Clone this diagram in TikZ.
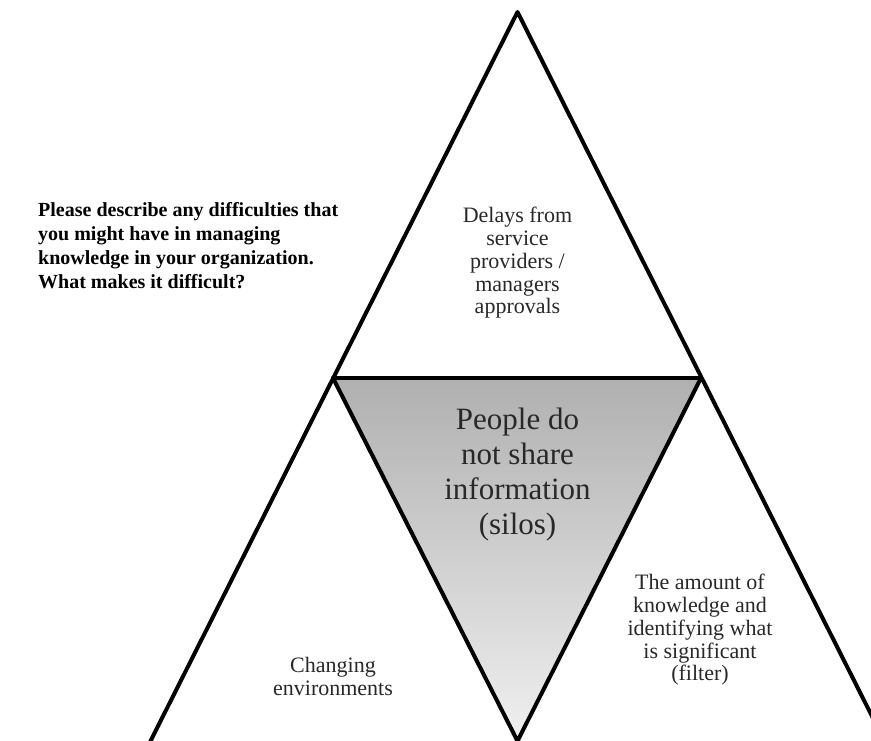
\documentclass[tikz,border=0pt]{standalone}
\usepackage{fontspec}
\setmainfont{Liberation Serif}
\definecolor{txtgray}{RGB}{40,40,40}
\definecolor{shadetop}{RGB}{176,176,176}
\definecolor{shadebot}{RGB}{240,240,240}
\begin{document}
\begin{tikzpicture}[x=1pt,y=-1pt,
  edge/.style={line width=4pt,line cap=round,line join=round},
  lbl/.style={inner sep=0pt,align=center,text=txtgray,anchor=north},
  question/.style={inner sep=0pt,align=left,anchor=north west,font=\bfseries\fontsize{20}{24}\selectfont}]
\useasboundingbox (0,0) rectangle (871,740);
\clip (0,0) rectangle (871,740);
\fill[white] (0,0) rectangle (871,740);
\coordinate (apex) at (517.5,12);
\coordinate (ml) at (333,378);
\coordinate (mr) at (701,378);
\coordinate (bc) at (517.5,741);
\coordinate (bl) at (150,742);
\coordinate (br) at (885,742);
\shade[top color=shadetop,bottom color=shadebot] (ml) -- (mr) -- (bc) -- cycle;
\draw[edge] (bl) -- (apex) -- (br);
\draw[edge] (ml) -- (mr);
\draw[edge] (ml) -- (bc) -- (mr);
\node[question] (q) at (38,202) {Please describe any difficulties that\\you might have in managing\\knowledge in your organization.\\What makes it difficult?};
\node[lbl,font=\fontsize{22}{22.8}\selectfont] (top) at (517.5,207) {Delays from\\service\\providers /\\managers\\approvals};
\node[lbl,font=\fontsize{31}{35}\selectfont] (mid) at (517.5,408) {People do\\not share\\information\\(silos)};
\node[lbl,font=\fontsize{22}{23}\selectfont] (left) at (333,657) {Changing\\environments};
\node[lbl,font=\fontsize{22}{22.8}\selectfont] (right) at (700,574) {The amount of\\knowledge and\\identifying what\\is significant\\(filter)};
\end{tikzpicture}
\end{document}
